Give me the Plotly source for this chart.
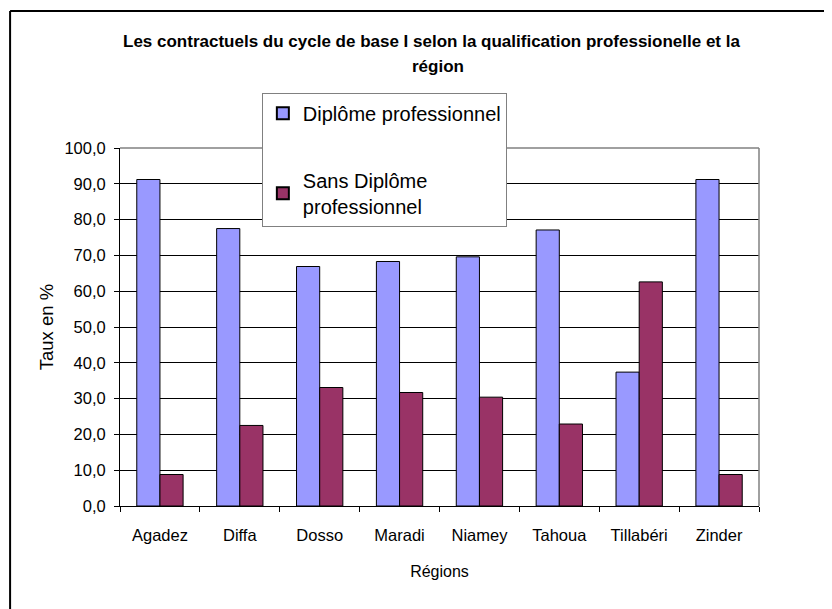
import plotly.graph_objects as go

# Regions and shares (%)
regions = ['Agadez', 'Diffa', 'Dosso', 'Maradi', 'Niamey', 'Tahoua', 'Tillabéri', 'Zinder']
avec_diplome = [91.2, 77.5, 66.9, 68.3, 69.6, 77.1, 37.4, 91.2]
sans_diplome = [8.8, 22.5, 33.1, 31.7, 30.4, 22.9, 62.6, 8.8]
y_ticks = [0, 10, 20, 30, 40, 50, 60, 70, 80, 90, 100]

font = 'Liberation Sans, Arial, sans-serif'

fig = go.Figure()
fig.add_trace(go.Bar(x=regions, y=avec_diplome, name='Diplôme professionnel',
                     legendgroup='a',
                     marker=dict(color='#9999FF', line=dict(color='black', width=1))))
fig.add_trace(go.Bar(x=regions, y=sans_diplome, name='Sans Diplôme<br>professionnel',
                     legendgroup='b',
                     marker=dict(color='#993366', line=dict(color='black', width=1))))

# page body has an 8px margin, so the figure is a bit smaller than the window
fig.update_layout(
    width=824, height=601,
    margin=dict(l=112, r=73, t=140, b=103),
    paper_bgcolor='white', plot_bgcolor='white',
    font=dict(family=font, color='black', size=16),
    separators=',.',
    barmode='group', bargap=0.42, bargroupgap=0,
    showlegend=True,
    legend=dict(x=0.222, y=1.154, xanchor='left', yanchor='top',
                bgcolor='white', bordercolor='#808080', borderwidth=1,
                font=dict(size=20, family=font),
                traceorder='grouped', tracegroupgap=38,
                itemsizing='constant'),
)

fig.update_yaxes(range=[0, 100], tickvals=y_ticks, tickformat='.1f',
                 showgrid=True, gridcolor='black', gridwidth=1,
                 showline=True, linecolor='black', linewidth=1,
                 ticks='outside', ticklen=5, tickcolor='black',
                 tickfont=dict(size=16.5), zeroline=False, ticklabelstandoff=5,
                 title=dict(text='Taux en %', font=dict(size=18.5), standoff=5))
fig.update_xaxes(showline=True, linecolor='black', linewidth=1,
                 ticks='outside', ticklen=5, tickcolor='black',
                 tickson='boundaries', tickfont=dict(size=16.5), ticklabelstandoff=14,
                 title=dict(text='Régions', font=dict(size=16), standoff=23))

# grey plot-area border on top and right
fig.add_shape(type='line', xref='paper', yref='paper', x0=0, x1=1, y0=1, y1=1,
              line=dict(color='#808080', width=1.5), layer='above')
fig.add_shape(type='line', xref='paper', yref='paper', x0=1, x1=1, y0=0, y1=1,
              line=dict(color='#808080', width=1.5), layer='above')

# outer chart frame (left and top edges visible)
fig.add_shape(type='line', xref='paper', yref='paper', x0=-0.172, x1=1.2, y0=1.383, y1=1.383,
              line=dict(color='black', width=2))
fig.add_shape(type='line', xref='paper', yref='paper', x0=-0.172, x1=-0.172, y0=1.383, y1=-0.35,
              line=dict(color='black', width=2))

# title in two lines
fig.add_annotation(text='<b>Les contractuels du cycle de base I selon la qualification professionelle et la</b>',
                   xref='paper', yref='paper', x=0.488, y=1.298, xanchor='center', yanchor='middle',
                   showarrow=False, font=dict(size=17, family=font))
fig.add_annotation(text='<b>région</b>',
                   xref='paper', yref='paper', x=0.498, y=1.228, xanchor='center', yanchor='middle',
                   showarrow=False, font=dict(size=17, family=font))

fig.write_html('out.html')
